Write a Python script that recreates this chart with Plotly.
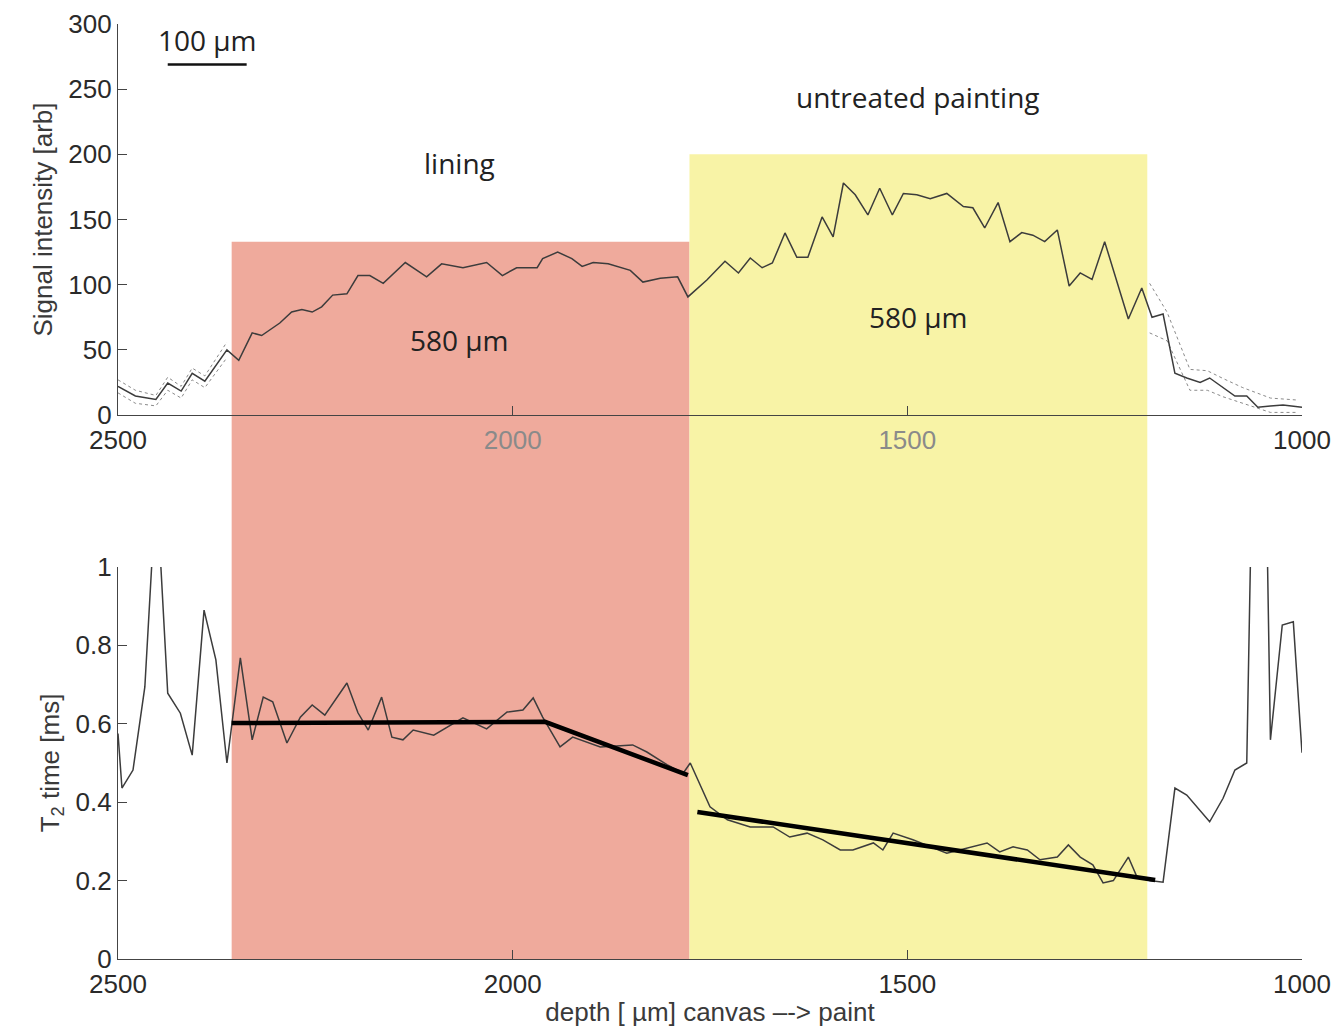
import plotly.graph_objects as go

# ---------------- data ----------------
sig_depth = [2500, 2478, 2452, 2437, 2420, 2406, 2390, 2362, 2347, 2330, 2318, 2295, 2280, 2267, 2254,
             2242, 2228, 2210, 2196, 2181, 2164, 2136, 2109, 2090, 2063, 2033, 2013, 1995, 1969, 1962,
             1943, 1925, 1912, 1898, 1879, 1851, 1835, 1813, 1791, 1778, 1754, 1731, 1714, 1699, 1684,
             1671, 1655, 1640, 1626, 1608, 1594, 1581, 1566, 1550, 1535, 1519, 1505, 1488, 1471, 1450,
             1429, 1417, 1402, 1385, 1370, 1355, 1341, 1326, 1310, 1295, 1281, 1266, 1250, 1220, 1203,
             1190, 1176, 1161, 1146, 1129, 1117, 1100, 1085, 1070, 1056, 1040, 1024, 1000]
signal = [22, 14.6, 12, 24.5, 18.4, 32, 26, 50, 42, 63, 61, 70.6, 79, 81, 79,
          83, 92, 93, 107, 107, 101, 117, 106, 116, 113, 117, 107, 113, 113, 120,
          125, 120, 114, 117, 116, 111, 102, 105, 106, 90.6, 103.6, 118, 109, 120.5, 113,
          116.6, 139.7, 121, 121, 152, 136.6, 178, 169, 153.5, 174, 153.5, 170, 169, 166, 170,
          160, 159, 143.5, 163, 133, 140, 138, 133, 142, 99, 109, 104, 133, 73.7, 97.5,
          75, 77.5, 32, 28.4, 25, 28.4, 20.7, 14.6, 14.6, 6, 7, 7.7, 6]

# dotted spread bounds of the signal (visible outside the shaded layers)
sig_bound_left_depth = [2500, 2478, 2452, 2437, 2420, 2406, 2390, 2362]
sig_upper_left = [27, 19, 15, 29, 22, 36, 30, 56]
sig_lower_left = [17, 9, 7, 19, 13, 27, 21, 44]
sig_bound_right_depth = [1193, 1171, 1142, 1120, 1100, 1075, 1040, 1006]
sig_upper_right = [101, 79, 35, 34, 28, 21, 13, 11.5]
sig_lower_right = [63, 57, 19, 19, 14, 9, 2, 2]

t2_depth = [2500, 2495, 2481, 2466, 2456, 2447, 2437, 2421, 2406, 2391, 2376, 2362, 2345, 2330, 2316,
            2304, 2286, 2269, 2254, 2238, 2210, 2196, 2183, 2166, 2153, 2139, 2126, 2100, 2063, 2033,
            2007, 1987, 1974, 1962, 1940, 1924, 1889, 1848, 1830, 1804, 1784, 1775, 1750, 1728, 1699,
            1670, 1649, 1627, 1607, 1585, 1569, 1543, 1531, 1518, 1493, 1450, 1399, 1383, 1366, 1348,
            1332, 1310, 1296, 1281, 1265, 1252, 1239, 1220, 1209, 1193, 1176, 1161, 1146, 1117, 1100,
            1085, 1070, 1065, 1044, 1040, 1025, 1011, 1000]
t2_time = [0.575, 0.436, 0.482, 0.694, 1.05, 1.05, 0.678, 0.627, 0.52, 0.89, 0.763, 0.5, 0.768, 0.559, 0.668,
           0.656, 0.551, 0.617, 0.648, 0.622, 0.704, 0.628, 0.584, 0.668, 0.566, 0.559, 0.584, 0.571, 0.615, 0.587,
           0.63, 0.635, 0.666, 0.617, 0.541, 0.566, 0.541, 0.546, 0.528, 0.495, 0.474, 0.5, 0.388, 0.355, 0.337,
           0.337, 0.311, 0.321, 0.304, 0.278, 0.278, 0.296, 0.278, 0.321, 0.304, 0.27, 0.296, 0.273, 0.286, 0.278,
           0.253, 0.26, 0.291, 0.26, 0.24, 0.194, 0.2, 0.26, 0.209, 0.2, 0.196, 0.436, 0.418, 0.35, 0.41,
           0.482, 0.5, 1.05, 1.05, 0.559, 0.852, 0.86, 0.526]

fit_lining_depth = [2356, 1959, 1778]
fit_lining_t2 = [0.602, 0.605, 0.469]
fit_paint_depth = [1766, 1186]
fit_paint_t2 = [0.375, 0.2015]

# layers: name, start depth, end depth, height on signal axis, colour
layer_names = ["lining", "untreated painting"]
layer_start = [2356, 1776]
layer_end = [1776, 1196]
layer_top_signal = [133, 200]
layer_colors = ["#EFAA9C", "#F8F3A6"]
layer_label_depth = [2067, 1486]
layer_label_signal = [193, 244]
thickness_labels = ["580 µm", "580 µm"]
thickness_label_signal = [57.5, 75]

x_ticks = [2500, 2000, 1500, 1000]
sig_ticks = [0, 50, 100, 150, 200, 250, 300]
t2_ticks = [0, 0.2, 0.4, 0.6, 0.8, 1]
t2_ticktext = ["0", "0.2", "0.4", "0.6", "0.8", "1"]

scalebar_depth = [2437, 2337]
scalebar_signal = 269

# ---------------- figure ----------------
W, H = 1343, 1031
top_dom = [0.5818, 1.0]
bot_dom = [0.0, 0.4193]

fig = go.Figure()

line_col = "#3c3c3c"
dot_line = dict(color="#8a8a8a", width=1, dash="dot")
fig.add_trace(go.Scatter(x=sig_bound_left_depth, y=sig_upper_left, mode="lines", line=dot_line, xaxis="x", yaxis="y"))
fig.add_trace(go.Scatter(x=sig_bound_left_depth, y=sig_lower_left, mode="lines", line=dot_line, xaxis="x", yaxis="y"))
fig.add_trace(go.Scatter(x=sig_bound_right_depth, y=sig_upper_right, mode="lines", line=dot_line, xaxis="x", yaxis="y"))
fig.add_trace(go.Scatter(x=sig_bound_right_depth, y=sig_lower_right, mode="lines", line=dot_line, xaxis="x", yaxis="y"))
fig.add_trace(go.Scatter(x=sig_depth, y=signal, mode="lines",
                         line=dict(color=line_col, width=1.5), xaxis="x", yaxis="y"))

fig.add_trace(go.Scatter(x=t2_depth, y=t2_time, mode="lines",
                         line=dict(color=line_col, width=1.5), xaxis="x2", yaxis="y2"))
fig.add_trace(go.Scatter(x=fit_lining_depth, y=fit_lining_t2, mode="lines",
                         line=dict(color="black", width=4.5), xaxis="x2", yaxis="y2"))
fig.add_trace(go.Scatter(x=fit_paint_depth, y=fit_paint_t2, mode="lines",
                         line=dict(color="black", width=4.5), xaxis="x2", yaxis="y2"))

shapes = []
for s, e, top, col in zip(layer_start, layer_end, layer_top_signal, layer_colors):
    # part inside the signal panel
    shapes.append(dict(type="rect", xref="x", yref="y", x0=s, x1=e, y0=0, y1=top,
                       fillcolor=col, line=dict(width=0), layer="below"))
    # part through the gap and the T2 panel
    shapes.append(dict(type="rect", xref="x2", yref="paper", x0=s, x1=e, y0=bot_dom[0], y1=top_dom[0],
                       fillcolor=col, line=dict(width=0), layer="below"))
# scale bar
shapes.append(dict(type="line", xref="x", yref="y", x0=scalebar_depth[0], x1=scalebar_depth[1],
                   y0=scalebar_signal, y1=scalebar_signal, line=dict(color="#111", width=2.5)))

annotations = []
txt_font = dict(family="Open Sans, Noto Sans, sans-serif", size=28, color="#222")
for name, xd, yv in zip(layer_names, layer_label_depth, layer_label_signal):
    annotations.append(dict(x=xd, y=yv, xref="x", yref="y", text=name, showarrow=False, font=txt_font))
for lab, xd, yv in zip(thickness_labels, layer_label_depth, thickness_label_signal):
    annotations.append(dict(x=xd, y=yv, xref="x", yref="y", text=lab, showarrow=False, font=txt_font))
annotations.append(dict(x=sum(scalebar_depth) / 2, y=288, xref="x", yref="y", text="100 µm",
                        showarrow=False, font=txt_font))

tick_font = dict(family="Liberation Sans, Arial, sans-serif", size=26, color="#2a2a2a")
title_font = dict(family="Liberation Sans, Arial, sans-serif", size=26, color="#3a3a3a")

top_ticktext = ["2500", '<span style="color:#8a8a8a">2000</span>',
                '<span style="color:#8a8a8a">1500</span>', "1000"]

axis_common = dict(showgrid=False, zeroline=False, showline=True, linecolor="#444", linewidth=1.3,
                   ticks="inside", tickcolor="#444", tickwidth=1.3, ticklen=9, tickfont=tick_font,
                   automargin=False)

fig.update_layout(
    width=W, height=H,
    paper_bgcolor="white", plot_bgcolor="white",
    showlegend=False,
    margin=dict(l=118, r=41, t=24, b=72),
    xaxis=dict(domain=[0, 1], range=[2500, 1000], anchor="y", tickvals=x_ticks, ticktext=top_ticktext,
               ticklabelstandoff=2, **axis_common),
    yaxis=dict(domain=top_dom, range=[0, 300], anchor="x", tickvals=sig_ticks,
               title=dict(text="Signal intensity [arb]", font=title_font, standoff=8), **axis_common),
    xaxis2=dict(domain=[0, 1], range=[2500, 1000], anchor="y2", tickvals=x_ticks, ticklabelstandoff=2,
                title=dict(text="depth [ µm] canvas –-> paint", font=title_font, standoff=4),
                **axis_common),
    yaxis2=dict(domain=bot_dom, range=[0, 1], anchor="x2", tickvals=t2_ticks, ticktext=t2_ticktext,
                title=dict(text="T<sub>2</sub> time [ms]", font=title_font, standoff=8), **axis_common),
    shapes=shapes,
    annotations=annotations,
)

fig.write_html("out.html")
